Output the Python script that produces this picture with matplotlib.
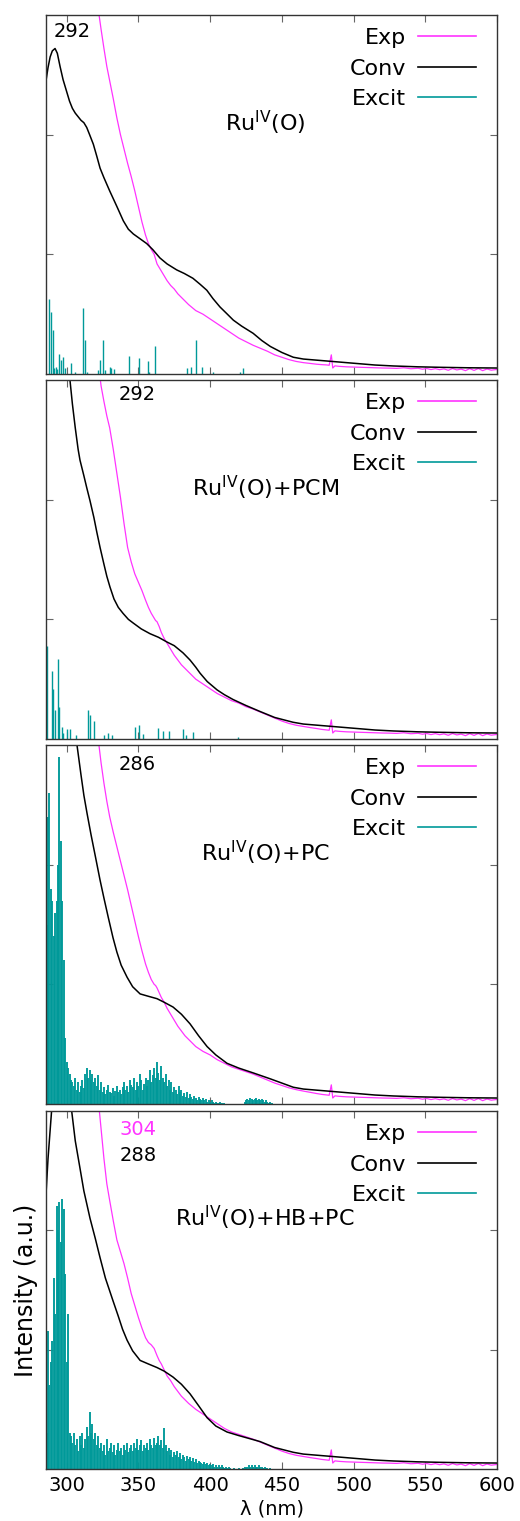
import numpy as np
import matplotlib.pyplot as plt
from matplotlib.lines import Line2D

# colours
MAG = '#ff33ff'
TEAL = '#009999'

# ---------------- experimental spectrum (same grid for the 4 panels)
exp_wl = [318, 320, 322, 324, 326, 328, 330, 332.5, 335, 337.5, 340, 342.5, 345, 347.5,
          350, 352.5, 355, 357, 359, 361, 362, 363, 364.5, 366, 368, 370, 372.5, 375,
          377.5, 380, 382.5, 385, 390, 395, 400, 405, 410, 415, 420, 425, 430, 435, 440,
          445, 450, 455, 460, 465, 470, 474, 478]
exp_p1 = [3.6, 3.3, 3.05, 2.88, 2.72, 2.57, 2.45, 2.3, 2.14, 2.0, 1.88, 1.76, 1.65, 1.53,
          1.4, 1.27, 1.16, 1.09, 1.04, 1.0, 0.96, 0.92, 0.89, 0.86, 0.82, 0.78, 0.74, 0.71,
          0.67, 0.64, 0.61, 0.58, 0.53, 0.5, 0.46, 0.42, 0.38, 0.34, 0.3, 0.27, 0.24, 0.215,
          0.19, 0.16, 0.14, 0.12, 0.105, 0.095, 0.088, 0.082, 0.078]
exp_p2 = [3.9, 3.55, 3.15, 2.95, 2.82, 2.7, 2.6, 2.42, 2.22, 2.02, 1.8, 1.6, 1.48, 1.38,
          1.31, 1.24, 1.16, 1.1, 1.05, 1.01, 0.99, 0.98, 0.94, 0.89, 0.84, 0.8, 0.75, 0.7,
          0.66, 0.62, 0.59, 0.56, 0.5, 0.46, 0.42, 0.38, 0.35, 0.32, 0.3, 0.27, 0.25, 0.225,
          0.2, 0.175, 0.15, 0.13, 0.115, 0.105, 0.095, 0.088, 0.08]
exp_p3 = [3.7, 3.35, 3.05, 2.85, 2.68, 2.53, 2.4, 2.27, 2.15, 2.03, 1.91, 1.79, 1.66, 1.53,
          1.4, 1.28, 1.17, 1.1, 1.04, 1.0, 0.99, 0.97, 0.93, 0.89, 0.85, 0.8, 0.75, 0.7,
          0.65, 0.61, 0.57, 0.54, 0.48, 0.44, 0.41, 0.37, 0.34, 0.31, 0.29, 0.27, 0.25, 0.225,
          0.2, 0.175, 0.155, 0.135, 0.12, 0.108, 0.097, 0.088, 0.08]
exp_p4 = [3.9, 3.5, 3.1, 2.85, 2.6, 2.39, 2.25, 2.08, 1.92, 1.82, 1.72, 1.6, 1.47, 1.37,
          1.27, 1.18, 1.1, 1.06, 1.04, 1.01, 0.98, 0.95, 0.91, 0.88, 0.83, 0.78, 0.74, 0.69,
          0.65, 0.61, 0.58, 0.55, 0.5, 0.46, 0.42, 0.38, 0.34, 0.31, 0.29, 0.27, 0.25, 0.225,
          0.2, 0.175, 0.15, 0.13, 0.115, 0.105, 0.095, 0.088, 0.08]
# noisy tail with the spike near 484 nm
tail_wl = [481, 483, 484.5, 485.5, 487, 490, 495, 500, 505, 510, 515, 520, 525, 530, 535,
           540, 545, 548, 551, 554, 557, 560, 563, 566, 569, 572, 575, 578, 581, 584, 587,
           590, 593, 596, 600]
tail_val = [0.076, 0.073, 0.16, 0.05, 0.068, 0.064, 0.06, 0.058, 0.056, 0.054, 0.052,
            0.05, 0.049, 0.047, 0.052, 0.044, 0.048, 0.04, 0.046, 0.037, 0.045, 0.036,
            0.043, 0.031, 0.046, 0.034, 0.041, 0.028, 0.045, 0.03, 0.046, 0.028, 0.042,
            0.032, 0.038]

# ---------------- convoluted spectra
conv_tail_wl = [465, 475, 485, 500, 515, 528, 545, 560, 580, 600]
conv_tail = [0.125, 0.115, 0.105, 0.09, 0.075, 0.067, 0.06, 0.056, 0.052, 0.05]

conv1_wl = [285.6, 287, 288.5, 290, 291.9, 293.5, 295.4, 297.5, 300, 302, 304, 306, 308,
            310, 312, 314, 316, 318.6, 321, 323.3, 326, 330, 335, 339.5, 343, 346.5, 350,
            355.8, 360, 365, 370, 376.7, 382, 388, 393, 397.7, 402, 406.9, 412, 416.2, 422,
            430, 436, 442, 450, 458]
conv1 = [2.45, 2.56, 2.65, 2.7, 2.72, 2.68, 2.57, 2.46, 2.36, 2.28, 2.22, 2.18, 2.15,
         2.12, 2.1, 2.06, 2.0, 1.92, 1.82, 1.72, 1.64, 1.53, 1.4, 1.28, 1.21, 1.17, 1.14,
         1.09, 1.04, 0.97, 0.92, 0.87, 0.84, 0.8, 0.75, 0.7, 0.63, 0.56, 0.5, 0.45, 0.4,
         0.34, 0.28, 0.23, 0.18, 0.14]

conv2_wl = [285.6, 292, 297, 302.3, 304, 306, 308, 309.3, 312, 314, 316.3, 319, 321, 323.3,
            326, 328, 330.2, 333, 336, 339.3, 343, 346.3, 352, 358.1, 364, 370, 375, 381.1,
            386, 390, 393, 398, 404.9, 410, 416, 425, 434.8, 445, 457.8]
conv2 = [4.0, 4.6, 3.8, 3.0, 2.8, 2.6, 2.42, 2.33, 2.2, 2.1, 1.99, 1.85, 1.73, 1.6, 1.46,
         1.36, 1.27, 1.17, 1.1, 1.05, 1.0, 0.97, 0.92, 0.88, 0.85, 0.81, 0.78, 0.72, 0.66,
         0.6, 0.55, 0.48, 0.41, 0.37, 0.33, 0.28, 0.23, 0.18, 0.14]

conv3_wl = [286, 295, 300, 304, 307.2, 310, 312, 314.2, 317, 320, 323.3, 326, 329, 332.3,
            335, 338, 342.1, 346, 351.2, 357, 363, 368, 374.2, 380, 386, 392, 397.9, 404,
            411.8, 420, 430, 442, 458]
conv3 = [5.0, 4.3, 3.7, 3.3, 3.0, 2.75, 2.58, 2.43, 2.25, 2.07, 1.87, 1.72, 1.56, 1.39,
         1.27, 1.16, 1.06, 0.98, 0.92, 0.9, 0.88, 0.85, 0.81, 0.75, 0.67, 0.57, 0.48, 0.41,
         0.34, 0.3, 0.26, 0.21, 0.14]

conv4_wl = [285.6, 287, 289.8, 293, 296, 299, 302, 303.5, 306, 309.3, 312, 316.3, 320,
            323.3, 327, 332.3, 336, 339, 342.1, 346, 351.2, 357, 363, 368, 374.2, 380, 386,
            392, 397.9, 404, 411.8, 420, 434.8, 445, 458]
conv4 = [2.3, 2.6, 3.05, 3.8, 4.0, 3.7, 3.2, 3.0, 2.75, 2.52, 2.33, 2.1, 1.93, 1.77, 1.6,
         1.41, 1.28, 1.17, 1.08, 0.99, 0.91, 0.88, 0.85, 0.82, 0.77, 0.71, 0.63, 0.53, 0.43,
         0.36, 0.31, 0.28, 0.23, 0.18, 0.14]

# ---------------- excitations (sticks)
exc1_wl = [287.9, 289.1, 290.3, 291.0, 292.5, 293.5, 294.5, 296.1, 297.7, 298.5, 303.0,
           306, 311.6, 312.8, 314, 322, 323.3, 325.1, 327, 330.2, 331, 333, 343.3, 350.2,
           356.5, 357.5, 361.6, 383.7, 386.7, 390.2, 394.6, 402, 420.5, 422.8]
exc1 = [0.63, 0.52, 0.37, 0.05, 0.06, 0.04, 0.17, 0.12, 0.14, 0.05, 0.09, 0.02, 0.55,
        0.28, 0.02, 0.03, 0.12, 0.28, 0.03, 0.06, 0.05, 0.04, 0.15, 0.13, 0.11, 0.02,
        0.23, 0.05, 0.06, 0.28, 0.06, 0.02, 0.02, 0.05]

exc2_wl = [286.1, 289.6, 290.7, 291.9, 293.8, 294.9, 296.5, 297.5, 300, 302.3, 306.5,
           314.7, 316.3, 319.3, 326, 328.8, 331.6, 347.7, 350.7, 353.5, 363.9, 367.4,
           371.6, 381.3, 383.2, 387.9, 419.5]
exc2 = [0.78, 0.57, 0.42, 0.24, 0.67, 0.27, 0.1, 0.05, 0.08, 0.08, 0.03, 0.24, 0.2, 0.15,
        0.03, 0.05, 0.03, 0.1, 0.12, 0.04, 0.09, 0.07, 0.07, 0.08, 0.03, 0.06, 0.02]

exc_dense_wl = list(range(286, 446))
exc3 = [1.5, 2.4, 2.6, 1.8, 1.7, 1.4, 1.6, 1.7, 2.0, 2.9,
        2.2, 1.7, 1.2, 0.55, 0.35, 0.3, 0.25, 0.2, 0.18, 0.15,
        0.22, 0.12, 0.18, 0.1, 0.15, 0.2, 0.13, 0.25, 0.3, 0.22,
        0.28, 0.2, 0.25, 0.18, 0.22, 0.15, 0.24, 0.12, 0.18, 0.1,
        0.14, 0.08, 0.12, 0.16, 0.1, 0.09, 0.13, 0.07, 0.11, 0.15,
        0.1, 0.12, 0.08, 0.14, 0.18, 0.12, 0.15, 0.1, 0.2, 0.16,
        0.14, 0.22, 0.12, 0.18, 0.15, 0.25, 0.2, 0.12, 0.17, 0.22,
        0.15, 0.2, 0.28, 0.18, 0.24, 0.3, 0.22, 0.35, 0.26, 0.2,
        0.32, 0.22, 0.18, 0.25, 0.15, 0.2, 0.12, 0.18, 0.1, 0.14,
        0.12, 0.08, 0.15, 0.1, 0.12, 0.07, 0.09, 0.06, 0.1, 0.05,
        0.08, 0.06, 0.04, 0.07, 0.05, 0.03, 0.06, 0.04, 0.03, 0.05,
        0.03, 0.04, 0.02, 0.03, 0.02, 0.03, 0.02, 0.01, 0.02, 0.01,
        0.01, 0.02, 0.01, 0, 0.01, 0, 0, 0, 0, 0,
        0, 0, 0, 0, 0, 0, 0, 0, 0.02, 0.03,
        0.04, 0.03, 0.05, 0.04, 0.03, 0.04, 0.05, 0.03, 0.04, 0.03,
        0.04, 0.03, 0.02, 0.03, 0.02, 0.01, 0.02, 0.01, 0, 0]
exc4 = [0.3, 1.16, 0.7, 0.9, 1.07, 1.6, 1.3, 2.2, 2.0, 2.24,
        1.9, 2.26, 2.18, 1.63, 0.9, 1.3, 0.3, 0.28, 0.22, 0.3,
        0.2, 0.25, 0.15, 0.28, 0.2, 0.3, 0.18, 0.25, 0.35, 0.28,
        0.48, 0.3, 0.38, 0.25, 0.3, 0.2, 0.28, 0.18, 0.22, 0.15,
        0.2, 0.12, 0.25, 0.15, 0.18, 0.22, 0.14, 0.2, 0.12, 0.16,
        0.22, 0.15, 0.18, 0.12, 0.2, 0.16, 0.22, 0.14, 0.18, 0.2,
        0.15, 0.22, 0.18, 0.25, 0.16, 0.2, 0.24, 0.15, 0.2, 0.18,
        0.22, 0.16, 0.25, 0.2, 0.18, 0.26, 0.2, 0.22, 0.28, 0.2,
        0.24, 0.18, 0.34, 0.2, 0.15, 0.18, 0.12, 0.16, 0.1, 0.14,
        0.12, 0.15, 0.1, 0.13, 0.08, 0.12, 0.1, 0.07, 0.11, 0.08,
        0.1, 0.07, 0.09, 0.06, 0.08, 0.05, 0.07, 0.06, 0.05, 0.04,
        0.06, 0.04, 0.05, 0.03, 0.04, 0.03, 0.04, 0.02, 0.03, 0.02,
        0.03, 0.02, 0.03, 0.02, 0.01, 0.02, 0.01, 0.02, 0.01, 0,
        0, 0.01, 0, 0, 0.01, 0, 0, 0.01, 0.02, 0.01,
        0.02, 0.03, 0.02, 0.03, 0.02, 0.03, 0.02, 0.02, 0.03, 0.02,
        0.02, 0.01, 0.02, 0.01, 0.01, 0, 0.01, 0, 0, 0]

titles = [r'Ru$^{\mathrm{IV}}$(O)', r'Ru$^{\mathrm{IV}}$(O)+PCM',
          r'Ru$^{\mathrm{IV}}$(O)+PC', r'Ru$^{\mathrm{IV}}$(O)+HB+PC']
xticks = [300, 350, 400, 450, 500, 550, 600]

panels = [
    (exp_p1, conv1_wl, conv1, exc1_wl, exc1, 1.0),
    (exp_p2, conv2_wl, conv2, exc2_wl, exc2, 1.0),
    (exp_p3, conv3_wl, conv3, exc_dense_wl, exc3, 1.35),
    (exp_p4, conv4_wl, conv4, exc_dense_wl, exc4, 1.35),
]
# figure pixel layout (top, bottom) of each panel
boxes = [(15, 374), (380, 739), (745, 1104), (1111, 1469)]

W, H = 520, 1521
fig = plt.figure(figsize=(W / 100, H / 100), dpi=100)
FS = 14      # tick labels, peak numbers, x label
FS_L = 16    # legend and panel titles

axes = []
for i, (ep, cwl, cv, xwl, xv, slw) in enumerate(panels):
    top, bot = boxes[i]
    ax = fig.add_axes([46 / W, 1 - bot / H, 451 / W, (bot - top) / H])
    axes.append(ax)
    ax.vlines(xwl, 0, xv, color=TEAL, lw=slw)
    ax.plot(exp_wl + tail_wl, ep + tail_val, color=MAG, lw=0.9)
    ax.plot(cwl + conv_tail_wl, cv + conv_tail, color='black', lw=1.1)
    ax.set_xlim(285.6, 600)
    ax.set_ylim(0, 3)
    ax.set_xticks(xticks)
    ax.set_yticks([1, 2])
    ax.tick_params(direction='in', top=True, right=True, length=5, width=0.8,
                   color='#666666', labelleft=False, labelsize=FS, pad=5)
    if i < 3:
        ax.tick_params(labelbottom=False)
    for s in ax.spines.values():
        s.set_color('#333333')
        s.set_linewidth(1.0)
    ax.text(0.486, 0.70, titles[i], transform=ax.transAxes, ha='center', va='center',
            fontsize=FS_L)
    handles = [Line2D([], [], color=MAG, lw=1.2), Line2D([], [], color='black', lw=1.2),
               Line2D([], [], color=TEAL, lw=1.2)]
    ax.legend(handles, ['Exp', 'Conv', 'Excit'], loc='upper right',
              bbox_to_anchor=(0.953, 0.964), frameon=False, markerfirst=False,
              fontsize=FS_L, handlelength=2.6, handletextpad=0.55, labelspacing=0.48,
              borderpad=0, borderaxespad=0)

axes[0].text(0.016, 0.953, '292', transform=axes[0].transAxes, ha='left', va='center', fontsize=FS)
axes[1].text(0.16, 0.961, '292', transform=axes[1].transAxes, ha='left', va='center', fontsize=FS)
axes[2].text(0.16, 0.947, '286', transform=axes[2].transAxes, ha='left', va='center', fontsize=FS)
axes[3].text(0.164, 0.947, '304', transform=axes[3].transAxes, ha='left', va='center',
             fontsize=FS, color=MAG)
axes[3].text(0.164, 0.877, '288', transform=axes[3].transAxes, ha='left', va='center', fontsize=FS)

axes[3].set_xlabel('λ (nm)', fontsize=FS, labelpad=3)
axes[3].set_ylabel('Intensity (a.u.)', fontsize=17, labelpad=6)

fig.savefig('out.png', dpi=100)
